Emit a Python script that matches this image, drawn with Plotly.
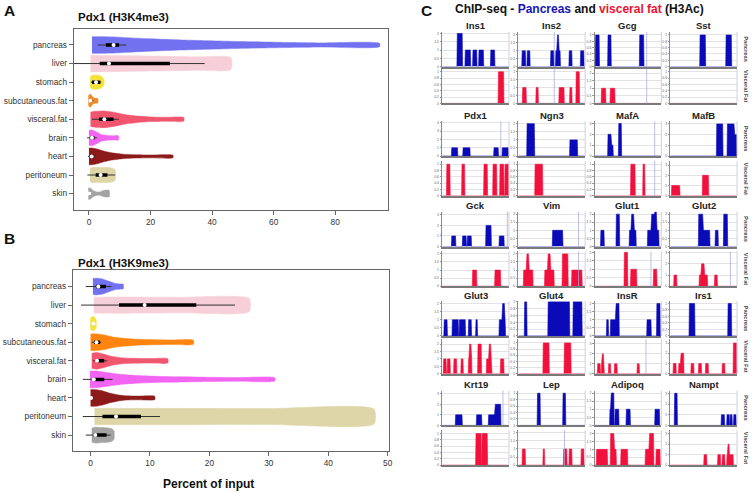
import plotly.graph_objects as go

W, H = 754, 495

# ---------------- Panel A / B data (violins) ----------------
TISSUES = ["pancreas", "liver", "stomach", "subcutaneous.fat", "visceral.fat",
           "brain", "heart", "peritoneum", "skin"]
COLORS_A = ["#7272F0", "#F6CFD8", "#F2E43C", "#F08A22", "#F2566F",
            "#F264F2", "#8C1A1A", "#DED6A8", "#A3A3A3"]
COLORS_B = ["#7272F0", "#F6CFD8", "#F2E43C", "#FF8410", "#F2566F",
            "#F264F2", "#8C1A1A", "#DED6A8", "#A3A3A3"]

# violin outline: positions (percent of input) and relative half-widths
A_KNOTS = [
    [1, 3, 8, 12, 20, 30, 45, 60, 75, 94.4],
    [0.5, 15, 35, 46.1],
    [0.4, 0.8, 2, 3.5, 4.3, 4.9],
    [-0.2, 0.4, 1.0, 1.6, 2.3, 2.9],
    [0.5, 2, 5, 8, 12, 16, 20, 25, 30.8],
    [0, 1, 2.5, 4, 6, 8, 9.6],
    [0, 1, 3, 5, 8, 11, 15, 20, 27.3],
    [0.3, 1, 4, 7, 8.2, 8.6],
    [-0.2, 0.5, 1.5, 2.5, 3.5, 4.5, 5.5, 6.6],
]
A_WIDTHS = [
    [1.0, 1.0, 0.97, 0.88, 0.74, 0.6, 0.45, 0.33, 0.25, 0.2],
    [1.0, 0.93, 0.8, 0.72],
    [0.65, 0.8, 0.85, 0.8, 0.6, 0.3],
    [0.55, 0.8, 0.55, 0.33, 0.3, 0.26],
    [0.85, 0.95, 1.0, 0.85, 0.55, 0.38, 0.28, 0.24, 0.22],
    [0.9, 0.95, 0.7, 0.4, 0.28, 0.25, 0.25],
    [1.0, 1.0, 0.85, 0.62, 0.4, 0.27, 0.2, 0.17, 0.15],
    [0.75, 0.9, 0.9, 0.88, 0.75, 0.5],
    [0.7, 0.65, 0.35, 0.2, 0.2, 0.35, 0.42, 0.38],
]
# box stats: whisker low, q1, median, q3, whisker high
A_WLO = [2.9, -5.5, 0.6, 0.0, 1.0, -0.6, -0.3, -0.5, 0.0]
A_Q1 = [5.5, 3.5, 1.0, 0.3, 3.3, 0.5, 0.4, 2.2, 0.1]
A_MED = [8.0, 6.5, 2.3, 0.5, 5.0, 1.0, 0.9, 3.8, 0.2]
A_Q3 = [9.8, 26.3, 3.7, 1.0, 8.0, 1.8, 1.6, 6.0, 0.5]
A_WHI = [12.1, 37.6, 4.0, 1.5, 9.7, 2.6, 2.3, 8.5, 1.0]

B_KNOTS = [
    [0.4, 1, 2, 3, 4, 5, 5.5],
    [0.55, 5, 15, 26.7],
    [-0.05, 0.15, 0.45, 0.75, 0.95],
    [0, 1, 2.5, 4, 6, 8, 11, 14, 17.3],
    [0.2, 1, 2, 3.5, 5, 7, 10, 13],
    [-0.1, 1, 2.5, 5, 8, 12, 16, 20, 25, 31],
    [0, 1, 2, 3, 4.5, 6, 8, 10.8],
    [0.67, 10, 30, 47.7],
    [0.2, 0.8, 2, 3, 3.6, 3.95],
]
B_WIDTHS = [
    [0.95, 1.0, 0.9, 0.65, 0.4, 0.3, 0.28],
    [0.95, 0.98, 0.93, 0.8],
    [0.5, 0.8, 0.85, 0.75, 0.4],
    [1.0, 1.0, 0.85, 0.6, 0.45, 0.35, 0.3, 0.27, 0.25],
    [0.9, 1.0, 0.85, 0.55, 0.38, 0.3, 0.27, 0.25],
    [1.0, 1.0, 0.85, 0.6, 0.45, 0.35, 0.3, 0.25, 0.22, 0.2],
    [1.0, 0.98, 0.85, 0.62, 0.38, 0.25, 0.22, 0.2],
    [0.98, 0.98, 0.95, 0.9],
    [0.85, 0.95, 0.9, 0.85, 0.75, 0.5],
]
B_WLO = [-0.8, -1.6, 0.3, 0.2, 0.4, -1.3, -0.1, -1.3, -0.8]
B_Q1 = [0.9, 4.8, 0.4, 0.6, 0.9, 0.4, 0.0, 2.0, 0.5]
B_MED = [1.3, 9.1, 0.5, 1.0, 1.1, 0.55, 0.1, 4.3, 0.8]
B_Q3 = [2.6, 17.8, 0.6, 1.6, 2.3, 2.3, 0.3, 8.5, 2.7]
B_WHI = [3.5, 24.3, 0.7, 1.8, 2.8, 3.7, 0.5, 11.7, 3.4]

A_TICKS = [0, 20, 40, 60, 80]
B_TICKS = [0, 10, 20, 30, 40, 50]

# ---------------- Panel C data (ChIP-seq tracks) ----------------
GENES = ["Ins1", "Ins2", "Gcg", "Sst",
         "Pdx1", "Ngn3", "MafA", "MafB",
         "Gck", "Vim", "Glut1", "Glut2",
         "Glut3", "Glut4", "InsR", "Irs1",
         "Krt19", "Lep", "Adipoq", "Nampt"]

# (start, end, signal) along each gene window (0-100)
INS1_P = [(22, 30.5, 2), (34, 42.7, 1), (45.5, 52.2, 1), (54.5, 62.2, 1), (72.2, 79, 1)]
INS1_V = [(83.7, 92.5, 1)]
INS2_P = [(5, 11, 1), (12.7, 17.6, 1), (48, 53.5, 1), (55.5, 58, 1), (58, 60.5, 2),
          (60.5, 63, 1), (75.6, 80.5, 1), (92.7, 98.5, 1)]
INS2_V = [(5.8, 12, 1), (26, 30, 1), (60.5, 68.8, 1), (76.6, 80.5, 1), (86, 91.7, 2)]
GCG_P = [(1, 7.3, 1), (19.5, 25, 1), (67, 74, 1)]
GCG_V = [(9.8, 17, 1), (23, 30.7, 1)]
SST_P = [(44, 53, 1), (83, 92, 1)]
SST_V = []
PDX1_P = [(13.7, 23.4, 1), (30.7, 42, 1), (77, 84.4, 1), (89.5, 99.5, 1)]
PDX1_V = [(6.3, 12, 1), (29, 34, 1), (62, 68, 1), (75.6, 82, 1), (86, 92.7, 1), (93.6, 100, 1)]
NGN3_P = [(12.4, 24.4, 2), (76.6, 88.8, 1)]
NGN3_V = [(24.4, 36.6, 1)]
MAFA_P = [(19.5, 25, 2), (25, 28, 1), (35.6, 40.5, 3)]
MAFA_V = [(53.7, 61, 1), (72, 75.6, 1)]
MAFB_P = [(69, 79, 3), (85, 96, 3), (96, 100, 2)]
MAFB_V = [(1.5, 14.6, 1), (47.8, 57.6, 2)]
GCK_P = [(13.7, 20.5, 1), (30, 36.3, 1), (37.2, 44, 1), (65, 73.7, 2), (85, 93, 1)]
GCK_V = [(45, 52, 1), (78.5, 87.8, 1)]
VIM_P = [(50.7, 66.8, 1)]
VIM_V = [(7.3, 12.2, 1), (12.2, 15.6, 2), (15.6, 22, 1), (39, 44, 1), (44, 48, 2),
         (48, 53.7, 1), (65.4, 74.6, 2), (79.5, 95.6, 1)]
GLUT1_P = [(8.8, 14.6, 1), (32, 37.6, 2), (51.7, 55, 1), (55, 59, 2), (59, 62.4, 1),
           (79, 85, 1), (85, 90, 2), (90, 93, 2.15), (93, 96.6, 1)]
GLUT1_V = [(44, 49.8, 2), (53.7, 63.4, 1), (87.8, 93.6, 1)]
GLUT2_P = [(42, 49, 2), (49, 59.5, 1), (67, 72, 1), (79.5, 86, 2)]
GLUT2_V = [(5, 10, 1), (43, 46.3, 1), (46.3, 51, 2), (51, 56, 1), (66, 70.7, 1)]
GLUT3_P = [(2.4, 7.8, 1), (14.6, 24.5, 1), (25.2, 35, 1), (39, 44, 1), (50, 53, 1),
           (85, 90, 1), (90, 93.6, 2), (93.6, 95, 1)]
GLUT3_V = [(1.5, 6.3, 1), (7.3, 12.2, 1), (17, 22, 1), (27.8, 31.7, 1), (39, 40.5, 1),
           (40.5, 43.5, 2), (43.5, 44.5, 1), (53, 59, 2), (66, 70, 1), (70, 73, 2),
           (73, 74.6, 1), (87, 92.7, 1)]
GLUT4_P = [(8.8, 13, 1), (44, 77, 1), (81.5, 95.6, 1)]
GLUT4_V = [(36.6, 46.3, 1), (68.3, 79, 1)]
INSR_P = [(17.6, 21, 1), (23.4, 31.7, 1), (31.7, 37, 2), (78, 85, 1), (92.7, 98.5, 2)]
INSR_V = [(4, 8.8, 1), (9.8, 11, 1), (11, 13.7, 2), (13.7, 14.6, 1), (20.5, 24.4, 1),
          (29.3, 34, 1), (63.4, 67.3, 1)]
IRS1_P = [(28, 37, 1), (86, 92, 1)]
IRS1_V = [(4, 9, 1), (12.2, 15.6, 1), (15.6, 20.5, 2), (30.7, 35.6, 1), (42, 47, 1),
          (52.4, 57.3, 1), (77.4, 82, 1), (94, 100, 3)]
KRT19_P = [(19.5, 30.2, 1), (51, 59.5, 1), (69, 79, 1), (79, 88, 2)]
KRT19_V = [(50, 58.8, 1), (59.2, 68, 1)]
LEP_P = [(28, 33, 1), (66.3, 71, 1)]
LEP_V = [(5.4, 10.7, 1), (36.6, 39.5, 1), (67.3, 73, 1), (75.6, 80.5, 1), (93.6, 98.5, 1)]
ADIPOQ_P = [(22.4, 24.4, 1), (24.4, 29.3, 2), (30.2, 36.6, 1), (47, 53.7, 1), (90, 97.6, 1)]
ADIPOQ_V = [(2.4, 19.5, 1), (23.4, 29.3, 2), (29.3, 32.7, 1), (39, 49.8, 1),
            (75.6, 81.9, 1), (81.9, 88.8, 2), (91.7, 98.5, 1)]
NAMPT_P = [(5.9, 10.7, 3), (76, 81.5, 1), (84.4, 88.8, 1), (89.3, 93, 1), (94.6, 99, 1)]
NAMPT_V = [(50, 55, 1), (70.7, 75.6, 1), (77.4, 82, 1), (84.4, 86, 1), (86, 88.3, 2),
           (88.3, 94.6, 1)]

PANC = [INS1_P, INS2_P, GCG_P, SST_P, PDX1_P, NGN3_P, MAFA_P, MAFB_P, GCK_P, VIM_P,
        GLUT1_P, GLUT2_P, GLUT3_P, GLUT4_P, INSR_P, IRS1_P, KRT19_P, LEP_P, ADIPOQ_P, NAMPT_P]
VFAT = [INS1_V, INS2_V, GCG_V, SST_V, PDX1_V, NGN3_V, MAFA_V, MAFB_V, GCK_V, VIM_V,
        GLUT1_V, GLUT2_V, GLUT3_V, GLUT4_V, INSR_V, IRS1_V, KRT19_V, LEP_V, ADIPOQ_V, NAMPT_V]
YMAX_P = [2.1, 2.2, 1.1, 1.1, 4.2, 2.15, 3.2, 3.25, 3.3, 2.15,
          2.15, 2.15, 2.15, 1.02, 2.15, 1.07, 3.3, 1.08, 2.15, 3.25]
YMAX_V = [1.1, 2.2, 2.3, 1.1, 1.1, 1.1, 1.1, 3.4, 2.15, 2.15,
          2.05, 3.1, 2.35, 1.13, 3.5, 3.4, 1.1, 2.15, 2.2, 3.3]
VLINE_P = [[], [53.7], [78], [], [87.8], [], [90], [], [97.5], [90],
           [], [], [], [], [], [], [91], [], [], []]
VLINE_V = [[], [53.7], [78], [], [], [], [90], [], [], [90],
           [84.4], [90], [], [], [77], [], [], [69], [], []]

# ---------------- build figure ----------------
FONT = "Liberation Sans, Arial, sans-serif"
NARROW = "Liberation Sans Narrow, Liberation Sans, Arial, sans-serif"


def fx(p):
    return p / W


def fy(p):
    return 1 - p / H


fig = go.Figure()
layout = dict(width=W, height=H, margin=dict(l=0, r=0, t=0, b=0),
              paper_bgcolor="white", plot_bgcolor="white", showlegend=False,
              font=dict(family=FONT, color="#333"))
annotations = []
shapes = []


def note(x, y, text, size, color="#111", family=FONT, xanchor="center", angle=0):
    annotations.append(dict(x=fx(x), y=fy(y), xref="paper", yref="paper", text=text,
                            showarrow=False, xanchor=xanchor, yanchor="middle",
                            textangle=angle,
                            font=dict(size=size, color=color, family=family)))


HW = 0.45
panel_defs = [
    ("", A_KNOTS, A_WIDTHS, COLORS_A, (A_WLO, A_Q1, A_MED, A_Q3, A_WHI),
     (74, 390, 28, 210), [-4.95, 97.3], A_TICKS),
    ("2", B_KNOTS, B_WIDTHS, COLORS_B, (B_WLO, B_Q1, B_MED, B_Q3, B_WHI),
     (73, 391, 271, 453), [-3.0, 50.3], B_TICKS),
]
for suf, knots, widths, cols, stats, box, xr, ticks in panel_defs:
    xa, ya = "x" + suf, "y" + suf
    wlo, q1, med, q3, whi = stats
    for i, t in enumerate(TISSUES):
        yc = 9 - i
        k, w = knots[i], widths[i]
        xs = list(k) + list(reversed(k))
        ys = [yc + HW * v for v in w] + [yc - HW * v for v in reversed(w)]
        fig.add_trace(go.Scatter(x=xs, y=ys, mode="lines", fill="toself",
                                 fillcolor=cols[i], line=dict(color=cols[i], width=0.5,
                                                              shape="spline", smoothing=0.6),
                                 xaxis=xa, yaxis=ya, hoverinfo="skip"))
        fig.add_trace(go.Scatter(x=[wlo[i], whi[i]], y=[yc, yc], mode="lines",
                                 line=dict(color="#333", width=1), xaxis=xa, yaxis=ya,
                                 hoverinfo="skip"))
        fig.add_trace(go.Scatter(x=[q1[i], q3[i]], y=[yc, yc], mode="lines",
                                 line=dict(color="black", width=3.5), xaxis=xa, yaxis=ya,
                                 hoverinfo="skip"))
        fig.add_trace(go.Scatter(x=[med[i]], y=[yc], mode="markers",
                                 marker=dict(color="white", size=4), xaxis=xa, yaxis=ya,
                                 hoverinfo="skip"))
    x0, x1, y0, y1 = box
    layout["xaxis" + suf] = dict(domain=[fx(x0), fx(x1)], range=xr, anchor=ya,
                                 tickvals=ticks, ticktext=[str(v) for v in ticks],
                                 showgrid=False, zeroline=False, showline=True, mirror=True,
                                 linecolor="#666", linewidth=1, ticks="outside", ticklen=4,
                                 tickcolor="#666", tickfont=dict(size=8.3, color="#333"))
    layout["yaxis" + suf] = dict(domain=[fy(y1), fy(y0)], range=[0.13, 9.87], anchor=xa,
                                 tickvals=list(range(9, 0, -1)), ticktext=TISSUES,
                                 showgrid=False, zeroline=False, showline=True, mirror=True,
                                 linecolor="#666", linewidth=1, ticks="outside", ticklen=4,
                                 tickcolor="#666", tickfont=dict(size=8.3, color="#333"))

# Panel C small tracks
COL_L = [444, 520.5, 597, 673]
COL_W = 67
ROW_P = [31, 121, 212, 302, 392]
ROW_V = [68, 161, 252, 340, 432]
TRK_H = 35
BLUE = "#0A0AB8"
RED = "#F2103C"


def track_xy(segs, d=0.6):
    xs, ys = [0], [0]
    n = len(segs)
    for j, (s, e, h) in enumerate(segs):
        adj_prev = j > 0 and abs(s - segs[j - 1][1]) < 0.05
        adj_next = j < n - 1 and abs(segs[j + 1][0] - e) < 0.05
        if not adj_prev:
            xs.append(s); ys.append(0)
        xs += [s + d, e - d]; ys += [h, h]
        if not adj_next:
            xs.append(e); ys.append(0)
    xs.append(100); ys.append(0)
    return xs, ys


ax = 3
for g, gene in enumerate(GENES):
    r, c = divmod(g, 4)
    left = COL_L[c]
    for kind, segs, ymax, vls, top, color, label in [
        ("P", PANC[g], YMAX_P[g], VLINE_P[g], ROW_P[r], BLUE, "Pancreas"),
        ("V", VFAT[g], YMAX_V[g], VLINE_V[g], ROW_V[r], RED, "Visceral Fat"),
    ]:
        xa, ya = "x%d" % ax, "y%d" % ax
        xs, ys = track_xy(segs)
        fig.add_trace(go.Scatter(x=xs, y=ys, mode="lines", fill="tozeroy",
                                 fillcolor=color, line=dict(color=color, width=0.6),
                                 xaxis=xa, yaxis=ya, hoverinfo="skip"))
        layout["xaxis%d" % ax] = dict(domain=[fx(left), fx(left + COL_W)], range=[0, 100],
                                      anchor=ya, showticklabels=False, showgrid=False,
                                      zeroline=False, showline=True, linecolor="#7a7a7a",
                                      linewidth=1.5, ticks="")
        layout["yaxis%d" % ax] = dict(domain=[fy(top + TRK_H), fy(top)], range=[0, ymax],
                                      anchor=xa, nticks=6, showgrid=True, gridcolor="#e3e3e3",
                                      gridwidth=0.6, zeroline=False, showline=True,
                                      linecolor="#8a8a8a", linewidth=1, ticks="outside",
                                      ticklen=1.5, tickcolor="#999",
                                      tickfont=dict(size=3.5, color="#666"))
        shapes.append(dict(type="line", xref=xa + " domain", yref=ya + " domain",
                           x0=1, x1=1, y0=0, y1=1, line=dict(color="#cdd0e2", width=1)))
        for v in vls:
            shapes.append(dict(type="line", xref=xa, yref=ya + " domain", x0=v, x1=v,
                               y0=0, y1=1, line=dict(color="rgba(165,170,220,0.75)", width=1)))
        if c == 3:
            note(749, top + TRK_H / 2, "<b>%s</b>" % label, 5.8, color="#444", angle=90)
        ax += 1
    note(left + COL_W / 2, ROW_P[r] - 6, "<b>%s</b>" % gene, 9.5, color="#222", family=NARROW)

# titles and labels
note(2, 9.5, "<b>A</b>", 15.5, xanchor="left")
note(2, 238.5, "<b>B</b>", 15.5, xanchor="left")
note(421, 9.5, "<b>C</b>", 15.5, xanchor="left")
note(76, 16, "<b>Pdx1 (H3K4me3)</b>", 11.5, xanchor="left")
note(76, 264, "<b>Pdx1 (H3K9me3)</b>", 11.5, xanchor="left")
note(209, 486, "<b>Percent of input</b>", 12)
note(582, 8, "<b>ChIP-seq - <span style='color:#1414B4'>Pancreas</span> and "
             "<span style='color:#EE1133'>visceral fat</span> (H3Ac)</b>", 12, family=NARROW)

layout["annotations"] = annotations
layout["shapes"] = shapes
fig.update_layout(**layout)
# remove the browser's default 8px page margin so the figure fills the window exactly
fig.write_html("out.html", config={"displayModeBar": False},
               post_script="document.body.style.margin='0';")
